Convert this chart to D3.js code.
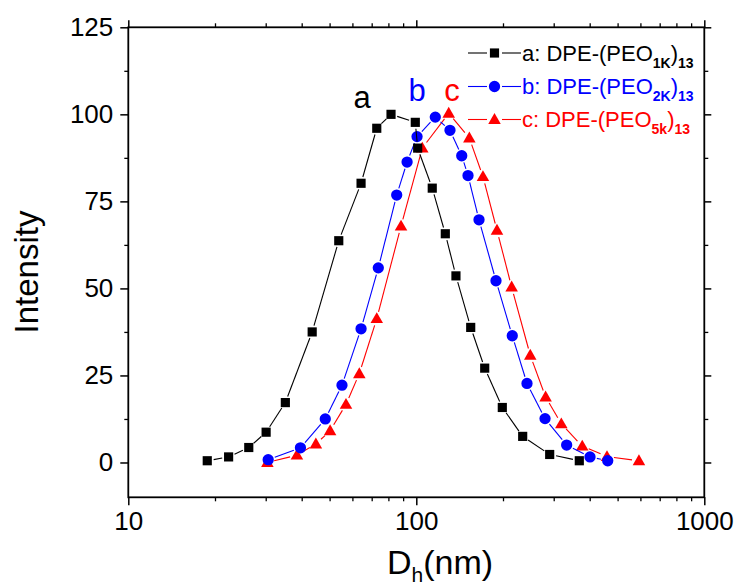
<!DOCTYPE html>
<html>
<head>
<meta charset="utf-8">
<script src="https://cdn.jsdelivr.net/npm/d3@7/dist/d3.min.js"></script>
<style>
  html, body { margin: 0; padding: 0; background: #fff; }
  svg text { font-family: "Liberation Sans", Arial, Helvetica, sans-serif; }
</style>
</head>
<body>
<svg id="chart" width="740" height="588"></svg>
<script>
// ---- data ----
const aX = [18.8, 22.3, 26.2, 30.1, 35.1, 43.5, 53.8, 64.3, 72.9, 81.7, 99.2, 101.1, 113.6, 126.1, 137.3, 154.5, 172.8, 198.9, 234.1, 290.5, 368.1];
const aY = [0.5, 1.6, 4.3, 8.7, 17.2, 37.5, 63.7, 80.2, 96.0, 100.0, 97.7, 90.3, 78.8, 65.7, 53.6, 38.8, 27.1, 15.8, 7.5, 2.3, 0.5];

const bX = [30.6, 39.6, 48.3, 55.2, 64.3, 73.8, 85.5, 92.9, 100.6, 116.4, 130.9, 143.8, 151.2, 165.1, 189.1, 215.4, 242.3, 279.9, 332.7, 401.0, 462.0];
const bY = [0.8, 4.2, 12.5, 22.2, 38.4, 55.9, 76.8, 86.3, 93.6, 99.2, 95.4, 88.1, 82.4, 69.7, 52.2, 36.4, 22.7, 12.6, 5.0, 1.6, 0.5];

const cX = [30.4, 38.5, 44.8, 50.2, 57.0, 63.4, 72.9, 88.5, 104.9, 129.6, 152.8, 170.4, 190.6, 214.3, 248.7, 281.2, 318.8, 376.9, 459.3, 593.0];
const cY = [0.0, 2.1, 5.3, 9.1, 16.7, 25.5, 41.3, 67.9, 90.3, 100.3, 93.2, 82.1, 66.7, 50.4, 30.8, 18.8, 11.1, 4.7, 1.7, 0.5];

const xTickValues = [10, 100, 1000];
const yTickValues = [0, 25, 50, 75, 100, 125];
const yMinorValues = [12.5, 37.5, 62.5, 87.5, 112.5];
const xDomain = [10, 1000];
const yDomain = [-10, 125];

const seriesNames = ["a", "b", "c"];
const legendMain = ["a: DPE-(PEO", "b: DPE-(PEO", "c: DPE-(PEO"];
const legendSub = ["1K", "2K", "5k"];
const legendSub2 = "13";
const xTitle = "D", xTitleSub = "h", xTitleRest = "(nm)";
const yTitle = "Intensity";

// ---- layout ----
const svg = d3.select("#chart");
const L = 128.3, R = 704.3, T = 27.3, B = 497.3;
const x = d3.scaleLog().domain(xDomain).range([L, R]);
const y = d3.scaleLinear().domain(yDomain).range([B, T]);

const colors = { a: "#000000", b: "#0000ff", c: "#ff0000" };

// minor x ticks
const xMinor = [];
for (let d = 10; d < 1000; d *= 10) for (let k = 2; k <= 9; k++) xMinor.push(d * k);

// bottom axis
const gx = svg.append("g").attr("transform", `translate(0,${B})`)
  .call(d3.axisBottom(x).tickValues(xTickValues).tickFormat(d3.format("d")).tickSize(8).tickPadding(6));
gx.select(".domain").remove();
gx.selectAll(".tick line").attr("stroke", "#000").attr("stroke-width", 1.5);
gx.selectAll(".tick text").attr("font-size", 26).attr("fill", "#000")
  .attr("font-family", "Liberation Sans, Arial, sans-serif");
svg.append("g").attr("transform", `translate(0,${B})`)
  .call(d3.axisBottom(x).tickValues(xMinor).tickFormat("").tickSize(4))
  .call(g => { g.select(".domain").remove(); g.selectAll(".tick line").attr("stroke", "#000").attr("stroke-width", 1.3); });

// top axis ticks (mirror)
svg.append("g").attr("transform", `translate(0,${T})`)
  .call(d3.axisTop(x).tickValues(xTickValues).tickFormat("").tickSize(7))
  .call(g => { g.select(".domain").remove(); g.selectAll(".tick line").attr("stroke", "#000").attr("stroke-width", 1.5); });
svg.append("g").attr("transform", `translate(0,${T})`)
  .call(d3.axisTop(x).tickValues(xMinor).tickFormat("").tickSize(4))
  .call(g => { g.select(".domain").remove(); g.selectAll(".tick line").attr("stroke", "#000").attr("stroke-width", 1.3); });

// left axis
const gy = svg.append("g").attr("transform", `translate(${L},0)`)
  .call(d3.axisLeft(y).tickValues(yTickValues).tickSize(8).tickPadding(7));
gy.select(".domain").remove();
gy.selectAll(".tick line").attr("stroke", "#000").attr("stroke-width", 1.5);
gy.selectAll(".tick text").attr("font-size", 26).attr("fill", "#000")
  .attr("font-family", "Liberation Sans, Arial, sans-serif");
svg.append("g").attr("transform", `translate(${L},0)`)
  .call(d3.axisLeft(y).tickValues(yMinorValues).tickFormat("").tickSize(4))
  .call(g => { g.select(".domain").remove(); g.selectAll(".tick line").attr("stroke", "#000").attr("stroke-width", 1.3); });

// right axis ticks (mirror)
svg.append("g").attr("transform", `translate(${R},0)`)
  .call(d3.axisRight(y).tickValues(yTickValues).tickFormat("").tickSize(7))
  .call(g => { g.select(".domain").remove(); g.selectAll(".tick line").attr("stroke", "#000").attr("stroke-width", 1.5); });
svg.append("g").attr("transform", `translate(${R},0)`)
  .call(d3.axisRight(y).tickValues(yMinorValues).tickFormat("").tickSize(4))
  .call(g => { g.select(".domain").remove(); g.selectAll(".tick line").attr("stroke", "#000").attr("stroke-width", 1.3); });

// frame
svg.append("rect").attr("x", L).attr("y", T).attr("width", R - L).attr("height", B - T)
  .attr("fill", "none").attr("stroke", "#000").attr("stroke-width", 1.8);

// ---- series ----
const sq = d3.symbol().type(d3.symbolSquare).size(84);
const ci = d3.symbol().type(d3.symbolCircle).size(100);
const tri = d3.symbol().type(d3.symbolTriangle).size(68);
const symbols = { a: sq, b: ci, c: tri };
const gaps = { a: 6.5, b: 7, c: 7 };

function drawSeries(name, xs, ys) {
  const pts = xs.map((v, i) => [x(v), y(ys[i])]);
  const g = svg.append("g");
  const gap = gaps[name];
  for (let i = 0; i < pts.length - 1; i++) {
    const [x1, y1] = pts[i], [x2, y2] = pts[i + 1];
    const dx = x2 - x1, dy = y2 - y1, len = Math.hypot(dx, dy);
    if (len <= 2 * gap) continue;
    const ux = dx / len, uy = dy / len;
    g.append("line")
      .attr("x1", x1 + ux * gap).attr("y1", y1 + uy * gap)
      .attr("x2", x2 - ux * gap).attr("y2", y2 - uy * gap)
      .attr("stroke", colors[name]).attr("stroke-width", 1.1);
  }
  g.selectAll("path.m").data(pts).enter().append("path")
    .attr("class", "m")
    .attr("d", symbols[name])
    .attr("transform", d => `translate(${d[0]},${d[1] + (name === "c" ? 0.8 : 0)})`)
    .attr("fill", colors[name]);
}
drawSeries("c", cX, cY);
drawSeries("b", bX, bY);
drawSeries("a", aX, aY);

// series letter labels
const letterPos = [[362, 108], [417, 101], [452, 101]];
seriesNames.forEach((n, i) => {
  svg.append("text").attr("x", letterPos[i][0]).attr("y", letterPos[i][1])
    .attr("text-anchor", "middle").attr("font-size", 31).attr("fill", colors[n]).text(n);
});

// ---- legend ----
const legRows = [53, 86.5, 119.5];
seriesNames.forEach((n, i) => {
  const yy = legRows[i];
  const g = svg.append("g");
  g.append("line").attr("x1", 468).attr("x2", 487).attr("y1", yy).attr("y2", yy)
    .attr("stroke", colors[n]).attr("stroke-width", 1.1);
  g.append("line").attr("x1", 502).attr("x2", 521).attr("y1", yy).attr("y2", yy)
    .attr("stroke", colors[n]).attr("stroke-width", 1.1);
  g.append("path").attr("d", symbols[n])
    .attr("transform", `translate(494.5,${yy + (n === "c" ? 0.8 : 0)})`).attr("fill", colors[n]);
  const t = g.append("text").attr("x", 522).attr("y", yy + 7.5).attr("font-size", 22).attr("fill", colors[n]);
  t.append("tspan").text(legendMain[i]);
  t.append("tspan").attr("dy", 7).attr("font-size", 14).attr("font-weight", "bold").text(legendSub[i]);
  t.append("tspan").attr("dy", -7).text(")");
  t.append("tspan").attr("dy", 7).attr("font-size", 14).attr("font-weight", "bold").text(legendSub2);
});

// ---- axis titles ----
const xt = svg.append("text").attr("x", 440).attr("y", 574).attr("text-anchor", "middle")
  .attr("font-size", 34).attr("fill", "#000");
xt.append("tspan").text(xTitle);
xt.append("tspan").attr("dy", 8).attr("font-size", 21).text(xTitleSub);
xt.append("tspan").attr("dy", -8).text(xTitleRest);

svg.append("text").attr("transform", "translate(38,272) rotate(-90)")
  .attr("text-anchor", "middle").attr("font-size", 33).attr("fill", "#000").text(yTitle);
</script>
</body>
</html>
